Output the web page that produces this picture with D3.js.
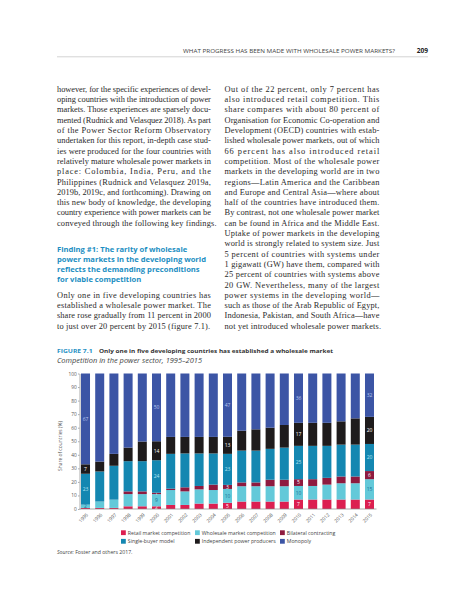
<!DOCTYPE html>
<html>
<head>
<meta charset="utf-8">
<title>Figure 7.1</title>
<script src="https://d3js.org/d3.v7.min.js"></script>
<style>
  html, body { margin: 0; padding: 0; background: #fff; }
  svg { display: block; }
  .body { font-family: "Liberation Serif", serif; font-size: 8.4px; letter-spacing: 0.15px; fill: #2a2a2a; }
  .sans { font-family: "Open Sans", sans-serif; }
  .axis text { font-family: "Open Sans", sans-serif; font-size: 4.8px; fill: #555; }
  .axis path, .axis line { stroke: #888; stroke-width: 0.7px; }
</style>
</head>
<body>
<script>

// ---- chart data (share of countries, %) ----
const years = ["1995","1996","1997","1998","1999","2000","2001","2002","2003","2004",
               "2005","2006","2007","2008","2009","2010","2011","2012","2013","2014","2015"];
const retail    = [0.8,0.8,0.8,2,2,2,3,3,4,4,4.6,5.5,5.5,5.5,5.5,7,7,7,7,7,7];
const wholesale = [2.4,4.7,6.1,9,9,9,11,10,10.5,10,10.2,11.3,11.3,11.3,11.3,10,10,11,12,12,15];
const bilateral = [0,0,0,2,2,1,1,3,2.5,4,3,2.8,2.8,4.8,4.8,5,5,5,5,5,6];
const single    = [22.8,22.2,25,22.3,22.3,24,25.7,25,24,23,22.9,23.5,23.5,22.8,23.7,24.6,24.6,23.6,23.5,23.5,20];
const ipp       = [7,7.3,8.8,10,14.5,14,12.5,12.2,12.2,12.2,12.6,14.7,15.7,15.6,16.7,17,17,17,17.2,19.4,20];
const monopoly  = [67,65,59.3,54.7,50.2,50,46.8,46.8,46.8,46.8,46.7,42.2,41.2,40,38,36.4,36.4,36.4,35.3,33.1,32];
const labeledYears = ["1995","2000","2005","2010","2015"];

const keys = ["retail","wholesale","bilateral","single","ipp","monopoly"];
const seriesNames = ["Retail market competition","Wholesale market competition","Bilateral contracting",
                     "Single-buyer model","Independent power producers","Monopoly"];

// ---- page text ----
const runningHead = "WHAT PROGRESS HAS BEEN MADE WITH WHOLESALE POWER MARKETS?";
const pageNumber = "209";
const leftPara1 = [
  "however, for the specific experiences of devel-",
  "oping countries with the introduction of power",
  "markets. Those experiences are sparsely docu-",
  "mented (Rudnick and Velasquez 2018). As part",
  "of the Power Sector Reform Observatory",
  "undertaken for this report, in-depth case stud-",
  "ies were produced for the four countries with",
  "relatively mature wholesale power markets in",
  "place: Colombia, India, Peru, and the",
  "Philippines (Rudnick and Velasquez 2019a,",
  "2019b, 2019c, and forthcoming). Drawing on",
  "this new body of knowledge, the developing",
  "country experience with power markets can be",
  "conveyed through the following key findings."
];
const heading = [
  "Finding #1: The rarity of wholesale",
  "power markets in the developing world",
  "reflects the demanding preconditions",
  "for viable competition"
];
const leftPara2 = [
  "Only one in five developing countries has",
  "established a wholesale power market. The",
  "share rose gradually from 11 percent in 2000",
  "to just over 20 percent by 2015 (figure 7.1)."
];
const rightPara = [
  "Out of the 22 percent, only 7 percent has",
  "also introduced retail competition. This",
  "share compares with about 80 percent of",
  "Organisation for Economic Co-operation and",
  "Development (OECD) countries with estab-",
  "lished wholesale power markets, out of which",
  "66 percent has also introduced retail",
  "competition. Most of the wholesale power",
  "markets in the developing world are in two",
  "regions\u2014Latin America and the Caribbean",
  "and Europe and Central Asia\u2014where about",
  "half of the countries have introduced them.",
  "By contrast, not one wholesale power market",
  "can be found in Africa and the Middle East.",
  "Uptake of power markets in the developing",
  "world is strongly related to system size. Just",
  "5 percent of countries with systems under",
  "1 gigawatt (GW) have them, compared with",
  "25 percent of countries with systems above",
  "20 GW. Nevertheless, many of the largest",
  "power systems in the developing world\u2014",
  "such as those of the Arab Republic of Egypt,",
  "Indonesia, Pakistan, and South Africa\u2014have",
  "not yet introduced wholesale power markets."
];

// styles
const colors = ["#dc1f50","#63c9d9","#8e1a3f","#1487b1","#1e1b1c","#3c55a5"];
const labelColors = ["#ffffff","#1d6f96","#ffffff","#b3e4f3","#ffffff","#b9c6ee"];

const svg = d3.select("body").append("svg")
  .attr("width", 457)
  .attr("height", 600);

svg.append("rect").attr("width", 457).attr("height", 600).attr("fill", "#fff");

// running head
svg.append("text")
  .attr("class", "sans")
  .attr("x", 183).attr("y", 52.6)
  .attr("textLength", 212).attr("lengthAdjust", "spacingAndGlyphs")
  .style("font-size", "5.2px").style("fill", "#444")
  .text(runningHead);
svg.append("text")
  .attr("class", "sans")
  .attr("x", 428).attr("y", 53)
  .attr("text-anchor", "end")
  .style("font-size", "6.6px").style("font-weight", 700).style("fill", "#222")
  .text(pageNumber);
svg.append("line")
  .attr("x1", 57).attr("x2", 428).attr("y1", 56.8).attr("y2", 56.8)
  .attr("stroke", "#cfcfcf").attr("stroke-width", 0.9);

// body columns
function drawPara(lines, x, y0, lh, width) {
  lines.forEach(function(t, i) {
    let el = svg.append("text")
      .attr("class", "body")
      .attr("x", x).attr("y", y0 + i * lh)
      .text(t);
    if (i < lines.length - 1) {
      el.attr("textLength", width).attr("lengthAdjust", "spacing");
    }
  });
}

let lh = 10.3;
drawPara(leftPara1, 57, 91.8, lh, 154);
drawPara(rightPara, 224.5, 91.8, lh, 155);
drawPara(leftPara2, 57, 91.8 + 20 * lh, lh, 154);

heading.forEach(function(t, i) {
  svg.append("text")
    .attr("class", "sans")
    .attr("x", 57).attr("y", 252.4 + i * 10)
    .style("font-size", "7.6px").style("font-weight", 700).style("fill", "#1b8ec2")
    .text(t);
});

// figure title
svg.append("text")
  .attr("class", "sans")
  .attr("x", 57).attr("y", 352.8)
  .attr("textLength", 35.5).attr("lengthAdjust", "spacingAndGlyphs")
  .style("font-size", "5.8px").style("font-weight", 700).style("fill", "#1e90c4")
  .text("FIGURE 7.1");
svg.append("text")
  .attr("class", "sans")
  .attr("x", 99).attr("y", 352.8)
  .attr("textLength", 234).attr("lengthAdjust", "spacingAndGlyphs")
  .style("font-size", "5.8px").style("font-weight", 700).style("fill", "#333")
  .text("Only one in five developing countries has established a wholesale market");
svg.append("text")
  .attr("class", "sans")
  .attr("x", 57).attr("y", 363.2)
  .attr("textLength", 145).attr("lengthAdjust", "spacingAndGlyphs")
  .style("font-size", "6.3px").style("font-style", "italic").style("fill", "#444")
  .text("Competition in the power sector, 1995\u20132015");

// ---- chart ----
let table = years.map(function(yr, i) {
  return { year: yr, retail: retail[i], wholesale: wholesale[i], bilateral: bilateral[i],
           single: single[i], ipp: ipp[i], monopoly: monopoly[i] };
});

let stacked = d3.stack().keys(keys)(table);

let x = d3.scaleBand()
  .domain(years)
  .range([79.5, 375.5])
  .paddingInner(0.366)
  .paddingOuter(0.106);

let y = d3.scaleLinear()
  .domain([0, 100])
  .range([509, 373.5]);

let g = svg.append("g");

let layer = g.selectAll(".layer")
  .data(stacked)
  .enter().append("g")
  .attr("class", "layer")
  .attr("fill", function(d, i) { return colors[i]; });

layer.selectAll("rect")
  .data(function(d) { return d; })
  .enter().append("rect")
  .attr("x", function(d) { return x(d.data.year); })
  .attr("y", function(d) { return y(d[1]); })
  .attr("width", x.bandwidth())
  .attr("height", function(d) { return y(d[0]) - y(d[1]); });

// value labels on the five-year bars
layer.each(function(s, si) {
  d3.select(this).selectAll("text")
    .data(s.filter(function(d) {
      return labeledYears.indexOf(d.data.year) >= 0 && (d[1] - d[0]) >= 1;
    }))
    .enter().append("text")
    .attr("class", "sans")
    .attr("x", function(d) { return x(d.data.year) + x.bandwidth() / 2; })
    .attr("y", function(d) { return y((d[0] + d[1]) / 2); })
    .attr("dy", "0.36em")
    .attr("text-anchor", "middle")
    .style("font-size", "5px")
    .style("fill", labelColors[si])
    .text(function(d) { return Math.round(d[1] - d[0]); });
});

// axes
let yAxis = svg.append("g")
  .attr("class", "axis")
  .attr("transform", "translate(79.5,0)")
  .call(d3.axisLeft(y).ticks(10).tickSize(1.5).tickSizeOuter(0).tickPadding(1.3));

let xAxis = svg.append("g")
  .attr("class", "axis")
  .attr("transform", "translate(0,509)")
  .call(d3.axisBottom(x).tickSize(0).tickSizeOuter(0));

xAxis.select(".domain").attr("d", "M79.5,0H376.5");
xAxis.selectAll(".tick text")
  .attr("x", 0).attr("y", 0).attr("dy", "0.35em")
  .attr("text-anchor", "end")
  .attr("transform", "translate(1.8,5) rotate(-45)");

svg.append("text")
  .attr("class", "sans")
  .attr("transform", "translate(61.5,446) rotate(-90)")
  .attr("text-anchor", "middle")
  .style("font-size", "4.9px").style("fill", "#555")
  .text("Share of countries (%)");

// legend
let legendX = [121, 195, 280];
let legend = svg.selectAll(".legend")
  .data(seriesNames)
  .enter().append("g")
  .attr("class", "legend")
  .attr("transform", function(d, i) {
    return "translate(" + legendX[i % 3] + "," + (532.7 + Math.floor(i / 3) * 8.6) + ")";
  });

legend.append("rect")
  .attr("x", 0).attr("y", -2.4)
  .attr("width", 4.8).attr("height", 4.8)
  .attr("fill", function(d, i) { return colors[i]; });

legend.append("text")
  .attr("class", "sans")
  .attr("x", 6.8).attr("y", 0).attr("dy", "0.36em")
  .style("font-size", "5.2px").style("fill", "#444")
  .text(function(d) { return d; });

// source
let src = svg.append("text")
  .attr("class", "sans")
  .attr("x", 57).attr("y", 553.8)
  .style("font-size", "5.2px").style("fill", "#444");
src.append("tspan").style("font-style", "italic").text("Source:");
src.append("tspan").text(" Foster and others 2017.");

</script>
</body>
</html>
